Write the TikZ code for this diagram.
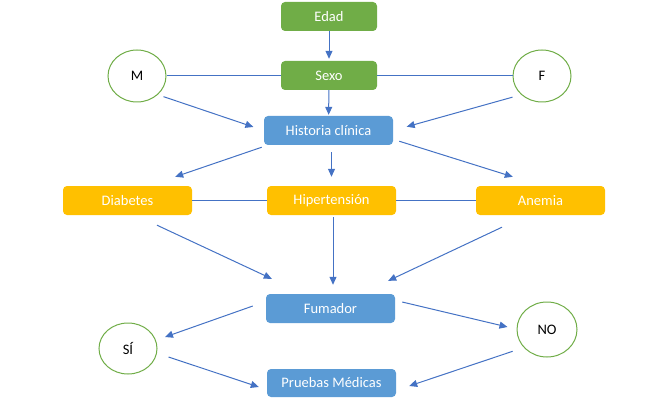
\documentclass[tikz,border=0pt]{standalone}
\usepackage{fontspec}
\setmainfont{Carlito}
\usetikzlibrary{arrows.meta}
\usetikzlibrary{shapes.geometric}

\definecolor{boxgreen}{HTML}{70AD47}
\definecolor{boxblue}{HTML}{5B9BD5}
\definecolor{boxorange}{HTML}{FFC000}
\definecolor{linkblue}{HTML}{4472C4}

\begin{document}
\begin{tikzpicture}
[x=1pt,y=-1pt,%
  every node/.style={font=\fontsize{14.5}{17}\selectfont},%
  box/.style={rectangle,rounded corners=4pt,text=white,minimum width=129pt,minimum height=29pt,inner sep=0pt},%
  greenbox/.style={box,fill=boxgreen,minimum width=96pt},%
  bluebox/.style={box,fill=boxblue},%
  orangebox/.style={box,fill=boxorange},%
  option/.style={ellipse,draw=boxgreen,line width=1pt,fill=white,minimum width=58pt,minimum height=52pt,inner sep=0pt},%
  link/.style={linkblue,line width=1pt},%
  arr/.style={link,-{Triangle[length=8pt,width=7pt]}}]
\useasboundingbox (0,0) rectangle (656,401);
% nodes
\node[greenbox] (edad) at (329,16.5) {Edad};
\node[greenbox] (sexo) at (329,75.5) {Sexo};
\node[option] (m) at (137,76) {M};
\node[option] (f) at (542,76) {F};
\node[bluebox] (hist) at (328.5,130.5) {Historia clínica};
\node[orangebox] (diab) at (127.5,200.5) {Diabetes};
\node[orangebox] (hiper) at (331.5,200.5) {Hipertensión};
\node[orangebox] (anem) at (540.5,200.5) {Anemia};
\node[bluebox] (fuma) at (330.5,308.5) {Fumador};
\node[option,minimum height=51pt] (si) at (128,348.5) {SÍ};
\node[option,minimum width=60pt,minimum height=55pt] (no) at (547,329.5) {NO};
\node[bluebox,minimum height=28pt] (prue) at (331.5,383) {Pruebas Médicas};
% plain lines
\draw[link] (m.east) -- (m.east -| sexo.west);
\draw[link] (sexo.east) -- (sexo.east -| f.west);
\draw[link] (diab) -- (hiper);
\draw[link] (hiper) -- (anem);
% arrows
\draw[arr,shorten >=2pt] (edad) -- (sexo);
\draw[arr,shorten >=1pt] (sexo) -- (hist);
\draw[arr,shorten <=6pt,shorten >=11pt] (m.south east) -- (hist.west);
\draw[arr,shorten <=9pt,shorten >=14pt] (f.south west) -- (hist.east);
\draw[arr] ([shift={(-2,2)}]hist.south west) -- ([shift={(-17,-9)}]diab.north east);
\draw[arr,shorten <=7pt,shorten >=9pt] (hiper.north |- hist.south) -- (hiper.north);
\draw[arr] ([shift={(6,-4)}]hist.south east) -- ([shift={(37,-9)}]anem.north west);
\draw[arr] ([shift={(29.5,10)}]diab.south) -- ([shift={(6,-15)}]fuma.north west);
\draw[arr,shorten <=2pt,shorten >=9pt] ([xshift=1.5pt]hiper.south) -- ([xshift=1.5pt]hiper.south |- fuma.north);
\draw[arr] ([shift={(-38.5,12)}]anem.south) -- ([shift={(-7,-13)}]fuma.north east);
\draw[arr] ([shift={(-13,-2.5)}]fuma.west) -- ([shift={(37,-11.5)}]si.center);
\draw[arr] ([shift={(7,-6.5)}]fuma.east) -- ([shift={(-9,-2.5)}]no.west);
\draw[arr] ([shift={(11,8.5)}]si.east) -- ([shift={(-8,4)}]prue.west);
\draw[arr] ([shift={(-12.8,2)}]no.south west) -- ([shift={(13,3)}]prue.east);
\end{tikzpicture}
\end{document}
